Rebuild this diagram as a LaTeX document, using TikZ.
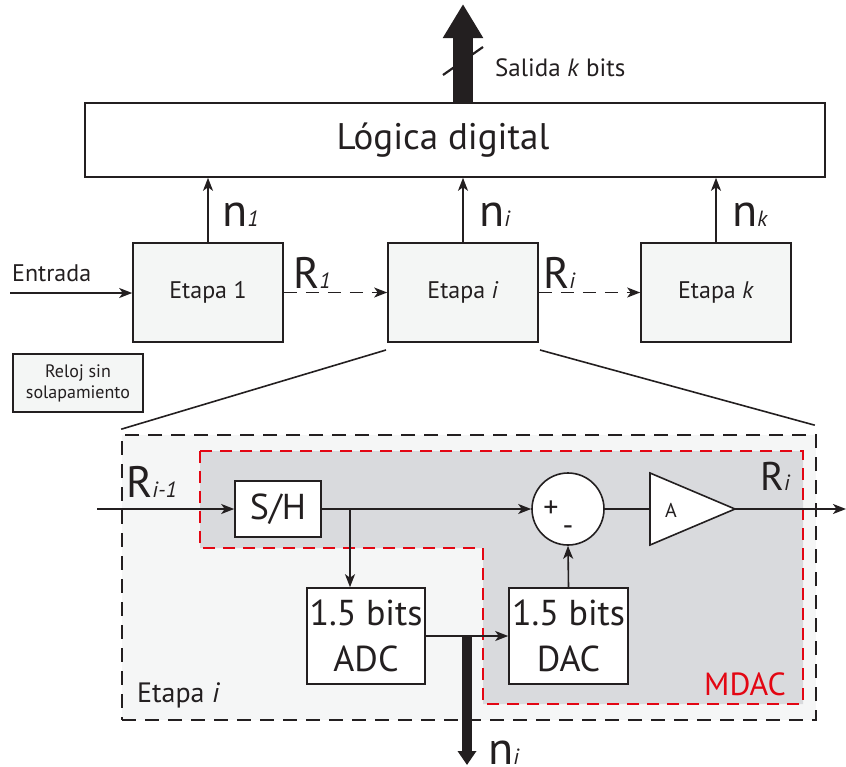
\documentclass[tikz,border=0pt]{standalone}
\usepackage{fontspec}
\setmainfont{PT Sans}
\usetikzlibrary{arrows.meta,calc}
\definecolor{ink}{HTML}{231F20}
\definecolor{stagefill}{HTML}{F4F6F5}
\definecolor{outerfill}{HTML}{F5F6F6}
\definecolor{mdacfill}{HTML}{D9DADD}
\definecolor{mdacred}{HTML}{E30613}
\newcommand{\fsz}[2]{\fontsize{#1pt}{#2pt}\selectfont}
\newcommand{\subi}[1]{{\fsz{22}{26}\itshape #1}}
\begin{document}
\begin{tikzpicture}[x=1pt,y=-1pt,
  every node/.style={text=ink},
  stagebox/.style={draw=ink,line width=1.6pt,fill=stagefill,minimum width=150pt,minimum height=99pt,inner sep=0pt,font=\fsz{24}{28}},
  blk/.style={draw=ink,line width=1.6pt,fill=white,inner sep=0pt,align=center},
  conn/.style={draw=ink,line width=1.6pt},
  arr/.style={conn,-{Stealth[length=13pt,width=10pt,inset=3.5pt]}},
  dasharr/.style={arr,dash pattern=on 13pt off 9pt},
  rlabel/.style={font=\fsz{44}{48},inner sep=0pt,anchor=base west},
  nlabel/.style={font=\fsz{46}{50},inner sep=0pt,anchor=base west},
  plain/.style={inner sep=0pt,anchor=base west},
  bigarrow/.style={draw=ink,line width=#1},
]
\useasboundingbox (0,0) rectangle (846,766);

% top
\node[draw=ink,line width=1.6pt,minimum width=740pt,minimum height=74pt,inner sep=0pt,font=\fsz{37}{40}] (logic) at (455,140) {\hspace*{-24pt}Lógica digital};
\coordinate (stop) at (463,4);
\draw[bigarrow=20pt,-{Triangle[length=34pt,width=38pt]}] (logic.north -| stop) -- (stop);
\coordinate (slA) at (443,75);
\coordinate (slB) at (483,47);
\draw[draw=ink,line width=2.2pt] (slA) -- (slB);
\node[plain,font=\fsz{25}{28}] (sal) at (495,76) {Salida \textit{k} bits};

% stages
\node[stagebox] (s1) at (208,292.5) {Etapa 1};
\node[stagebox] (si) at (463,292.5) {Etapa \textit{i}};
\node[stagebox] (sk) at (716,292.5) {Etapa \textit{k}};
\draw[arr] (s1.north) -- (s1.north |- logic.south);
\draw[arr] (si.north) -- (si.north |- logic.south);
\draw[arr] (sk.north) -- (sk.north |- logic.south);
\node[nlabel] (n1) at (222,226) {n\subi{1}};
\node[nlabel] (ni) at (479,226) {n\subi{i}};
\node[nlabel] (nk) at (732,226) {n\subi{k}};
\node[plain,font=\fsz{24}{28}] (entr) at (12,281) {Entrada};
\coordinate (ein) at (10,293);
\draw[arr] (ein) -- (ein -| s1.west);
\draw[dasharr] (s1.east) -- (si.west);
\draw[dasharr] (si.east) -- (sk.west);
\node[rlabel] (r1) at (293,288) {R\subi{1}};
\node[rlabel] (ri) at (543,288) {R\subi{i}};

\node[draw=ink,line width=1.6pt,fill=stagefill,minimum width=130pt,minimum height=58pt,inner sep=0pt,align=center,font=\fsz{18}{21}] (clk) at (78,383) {Reloj sin\\solapamiento};

% zoomed stage
\node[draw=ink,line width=1.6pt,dash pattern=on 14pt off 9pt,fill=outerfill,minimum width=694pt,minimum height=285pt,inner sep=0pt] (outer) at (469,577.5) {};
\coordinate (zl) at (386,350);
\coordinate (zr) at (540,350);
\draw[conn] (zl) -- ($(outer.north west)+(0,-5)$);
\draw[conn] (zr) -- ($(outer.north east)+(-2,-9)$);

\draw[mdacred,line width=1.6pt,dash pattern=on 12pt off 8pt,fill=mdacfill]
  (200,451) -- (803,451) -- (803,704) -- (483,704) -- (483,548) -- (200,548) -- cycle;

\node[blk,minimum width=86pt,minimum height=56pt,font=\fsz{36}{40}] (sh) at (278,509) {S/H};
\node[circle,draw=ink,line width=1.6pt,fill=white,minimum size=72pt,inner sep=0pt] (sum) at (568,509) {};
\node[font=\fsz{30}{30},inner sep=0pt] (plus) at (551,509) {+};
\node[font=\fsz{30}{30},inner sep=0pt] (minus) at (568,531) {-};

\coordinate (ampL) at (650,509);
\coordinate (ampO) at (735,509);
\draw[draw=ink,line width=1.6pt,fill=white] (650,473) -- (ampO) -- (650,545) -- cycle;
\node[font=\fsz{20}{24},inner sep=0pt] (amp) at (671,510) {A};

\coordinate (rin) at (97,509);
\draw[arr] (rin) -- (sh.west);
\node[rlabel] (rim1) at (126,497) {R\subi{i-1}};
\draw[arr] (sh.east) -- (sum.west);
\draw[conn] (sum.east) -- (ampL);
\coordinate (rout) at (846,509);
\draw[arr] (ampO) -- (rout);
\node[rlabel,font=\fsz{40}{44}] (rio) at (760,490) {R\subi{i}};

\node[blk,minimum width=118pt,minimum height=96pt,font=\fsz{36}{46}] (adc) at (366,636) {1.5 bits\\ADC};
\node[blk,minimum width=119pt,minimum height=96pt,font=\fsz{36}{46}] (dac) at (568.5,636) {1.5 bits\\DAC};
\coordinate (br) at (350,509);
\draw[arr] (br) -- (br |- adc.north);
\draw[arr] (adc.east) -- (dac.west);
\draw[arr] (dac.north) -- (sum.south);

\coordinate (nb) at (467,636);
\coordinate (ne) at (467,765);
\draw[bigarrow=10pt,-{Triangle[length=14pt,width=18pt]}] (nb) -- (ne);
\node[nlabel] (nio) at (488,764) {n\subi{i}};

\node[plain,font=\fsz{28}{32}] (etl) at (137,702) {Etapa \textit{i}};
\node[plain,font=\fsz{32}{34},text=mdacred] (mdl) at (704,695) {MDAC};
\end{tikzpicture}
\end{document}
